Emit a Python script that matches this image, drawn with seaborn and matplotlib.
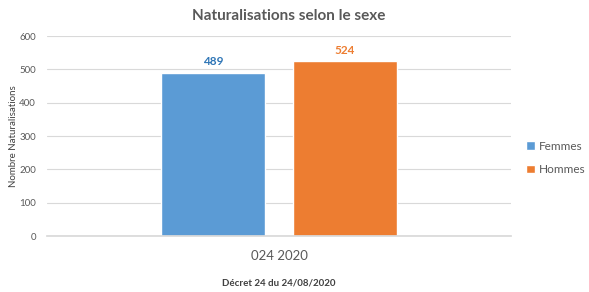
import matplotlib
matplotlib.use("Agg")
import matplotlib.pyplot as plt
import seaborn as sns
import pandas as pd

categories = ["024 2020"]
series = ["Femmes", "Hommes"]
femmes = [489]
hommes = [524]
colors = ["#5B9BD5", "#ED7D31"]
label_colors = ["#2E75B6", "#ED7D31"]

df = pd.DataFrame({
    "cat": categories * 2,
    "sexe": [series[0]] * len(femmes) + [series[1]] * len(hommes),
    "val": femmes + hommes,
})

sns.set_theme(style="white")
plt.rcParams['font.family'] = ['Lato', 'DejaVu Sans']

fig = plt.figure(figsize=(5.89, 2.92), dpi=100)
ax = fig.add_axes([47/589, 1-236/292, (511-47)/589, 200/292])

sns.barplot(data=df, x="cat", y="val", hue="sexe", palette=colors,
            width=0.565, gap=0.206, ax=ax, saturation=1, legend=True)

ax.set_ylim(0, 600)
ax.set_yticks(range(0, 601, 100))
ax.set_xlim(-0.5, 0.5)
ax.yaxis.grid(True, color="#D9D9D9", linewidth=0.8)
ax.set_axisbelow(True)
for s in ["top", "right", "left"]:
    ax.spines[s].set_visible(False)
ax.spines["bottom"].set_color("#D9D9D9")
ax.tick_params(axis="y", colors="#595959", labelsize=7, length=0, pad=8)
ax.tick_params(axis="x", colors="#595959", labelsize=9.5, length=0, pad=10)
ax.set_ylabel("Nombre Naturalisations", fontsize=7, color="#404040", labelpad=1)
ax.set_xlabel("Décret 24 du 24/08/2020", fontsize=7, color="#404040", fontweight="bold", labelpad=12)

for cont, lc in zip(ax.containers, label_colors):
    ax.bar_label(cont, fmt="%d", padding=4, color=lc, fontsize=8.5, fontweight="bold")

fig.text(0.49, 0.945, "Naturalisations selon le sexe", ha="center", va="center",
         fontsize=11, fontweight="bold", color="#595959")

leg = ax.legend(loc="center left", bbox_to_anchor=(1.01, 0.39), frameon=False,
                fontsize=8.5, handlelength=0.7, handleheight=0.7, labelspacing=1.1,
                handletextpad=0.35)
for t in leg.get_texts():
    t.set_color("#595959")

fig.savefig("out.png", dpi=100)
